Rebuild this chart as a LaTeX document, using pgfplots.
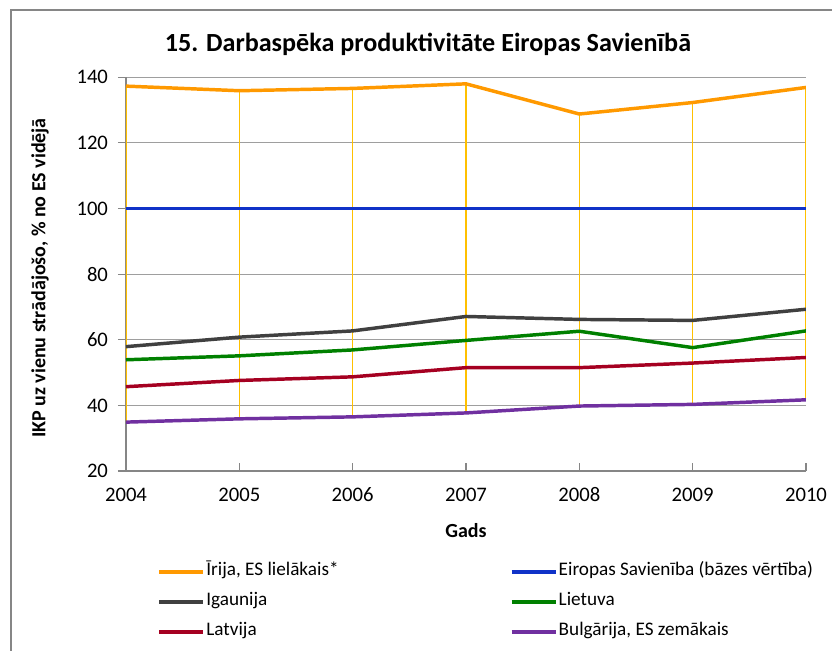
\documentclass[border=0pt]{standalone}
\usepackage{pgfplots}
\pgfplotsset{compat=1.18}
\usepackage{fontspec}
\setmainfont{Carlito}
\definecolor{cIr}{RGB}{255,153,0}
\definecolor{cEU}{RGB}{16,50,200}
\definecolor{cEE}{RGB}{64,64,64}
\definecolor{cLT}{RGB}{0,128,0}
\definecolor{cLV}{RGB}{165,0,33}
\definecolor{cBG}{RGB}{112,48,160}
\definecolor{cHL}{RGB}{255,192,0}
\definecolor{gridgray}{RGB}{134,134,134}
\begin{document}
\begin{tikzpicture}
\path[use as bounding box] (0,0) rectangle (624pt,-487.5pt);
\draw[color=gridgray, line width=1.5pt] (8.25pt,-490pt) -- (8.25pt,-7.5pt) -- (626pt,-7.5pt);
\begin{axis}[
  at={(94.5pt,-353.25pt)}, anchor=south west,
  scale only axis, width=510pt, height=295.3pt,
  xmin=2004, xmax=2010, ymin=20, ymax=140,
  xtick={2004,2005,2006,2007,2008,2009,2010},
  ytick={20,40,60,80,100,120,140},
  axis x line*=bottom, axis y line*=left,
  axis line style={color=gridgray, line width=0.9pt},
  tick align=inside, major tick length=6pt,
  tick style={color=gridgray, line width=0.9pt},
  ytick style={xshift=-6pt},
  ymajorgrids, grid style={color=gridgray!80, line width=0.9pt},
  /pgf/number format/assume math mode=true,
  /pgf/number format/1000 sep={},
  tick label style={font=\fontsize{15.5pt}{17pt}\selectfont, color=black},
  xticklabel style={yshift=-9pt},
  yticklabel style={xshift=-10pt},
  title={\textbf{15. Darbaspēka produktivitāte Eiropas Savienībā}},
  title style={font=\fontsize{19.6pt}{22pt}\selectfont, at={(axis description cs:0.444,1.062)}, anchor=center},
  xlabel={\textbf{Gads}},
  xlabel style={font=\fontsize{15pt}{17pt}\selectfont, at={(axis description cs:0.5,-0.152)}, anchor=center},
  ylabel={\textbf{IKP uz vienu strādājošo, \% no ES vidējā}},
  ylabel style={font=\fontsize{15pt}{17pt}\selectfont, at={(axis description cs:-0.1265,0.49)}, anchor=center, rotate=0},
  legend columns=2,
  legend cell align=left,
  legend image code/.code={\draw[#1] (0pt,0pt) -- (33pt,0pt);},
  legend style={draw=none, fill=none, inner sep=0pt, row sep=8.5pt,
    at={(axis description cs:0.046,-0.232)}, anchor=north west,
    font=\fontsize{14.4pt}{16pt}\selectfont,
    nodes={inner xsep=1pt, inner ysep=1pt, text height=9pt, text depth=3pt},
    /tikz/every even column/.append style={column sep=127.5pt}},
  every axis plot/.append style={line width=2.6pt, line join=round},
]
% high-low lines
\addplot[cHL, line width=1.1pt, forget plot] coordinates {(2004,34.9) (2004,137.3)};
\addplot[cHL, line width=1.1pt, forget plot] coordinates {(2005,35.9) (2005,135.9)};
\addplot[cHL, line width=1.1pt, forget plot] coordinates {(2006,36.5) (2006,136.6)};
\addplot[cHL, line width=1.1pt, forget plot] coordinates {(2007,37.7) (2007,138.0)};
\addplot[cHL, line width=1.1pt, forget plot] coordinates {(2008,39.8) (2008,128.8)};
\addplot[cHL, line width=1.1pt, forget plot] coordinates {(2009,40.3) (2009,132.3)};
\addplot[cHL, line width=1.1pt, forget plot] coordinates {(2010,41.7) (2010,136.9)};
% series
\addplot[cIr] coordinates {(2004,137.3) (2005,135.9) (2006,136.6) (2007,138.0) (2008,128.8) (2009,132.3) (2010,136.9)};
\addlegendentry{Īrija, ES lielākais*}
\addplot[cEU] coordinates {(2004,100) (2005,100) (2006,100) (2007,100) (2008,100) (2009,100) (2010,100)};
\addlegendentry{Eiropas Savienība (bāzes vērtība)}
\addplot[cEE] coordinates {(2004,57.9) (2005,60.8) (2006,62.7) (2007,67.1) (2008,66.2) (2009,65.9) (2010,69.3)};
\addlegendentry{Igaunija}
\addplot[cLT] coordinates {(2004,53.9) (2005,55.1) (2006,56.9) (2007,59.8) (2008,62.6) (2009,57.6) (2010,62.7)};
\addlegendentry{Lietuva}
\addplot[cLV] coordinates {(2004,45.7) (2005,47.6) (2006,48.7) (2007,51.5) (2008,51.5) (2009,52.9) (2010,54.6)};
\addlegendentry{Latvija}
\addplot[cBG] coordinates {(2004,34.9) (2005,35.9) (2006,36.5) (2007,37.7) (2008,39.8) (2009,40.3) (2010,41.7)};
\addlegendentry{Bulgārija, ES zemākais}
\end{axis}
\end{tikzpicture}
\end{document}
